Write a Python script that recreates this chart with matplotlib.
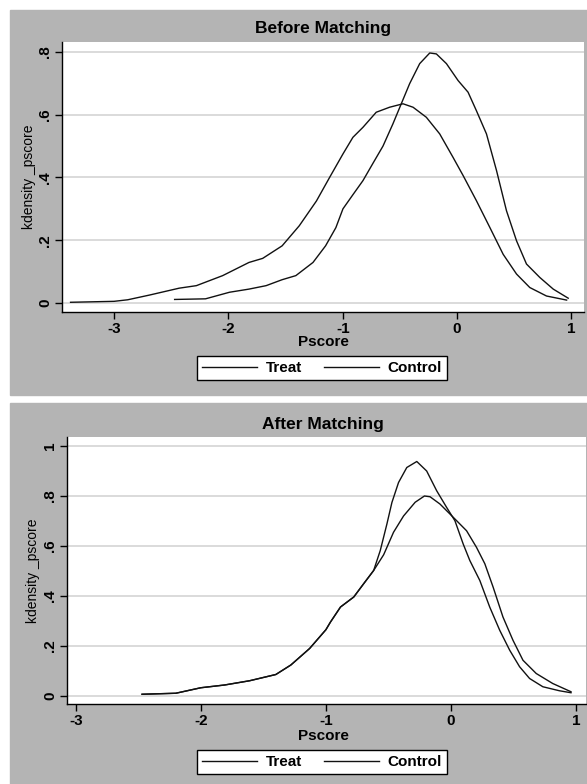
import matplotlib
matplotlib.use('Agg')
import matplotlib.pyplot as plt
from matplotlib.patches import Rectangle

plt.rcParams['font.family'] = ['Liberation Sans', 'DejaVu Sans']

# Before matching
before_control_x = [-3.38, -3.0, -2.88, -2.69, -2.43, -2.28, -2.05, -1.82, -1.70, -1.53, -1.38, -1.23,
                    -1.115, -0.998, -0.911, -0.823, -0.707, -0.59, -0.473, -0.385, -0.269, -0.152,
                    -0.035, 0.053, 0.169, 0.286, 0.403, 0.52, 0.636, 0.782, 0.958]
before_control_y = [0.002, 0.005, 0.01, 0.025, 0.047, 0.055, 0.087, 0.129, 0.142, 0.182, 0.246, 0.325,
                    0.4, 0.475, 0.528, 0.56, 0.608, 0.624, 0.635, 0.624, 0.592, 0.539,
                    0.464, 0.406, 0.326, 0.241, 0.155, 0.092, 0.049, 0.022, 0.009]
before_treat_x = [-2.47, -2.2, -1.99, -1.82, -1.67, -1.53, -1.41, -1.26, -1.15, -1.06, -0.998, -0.911,
                  -0.823, -0.736, -0.648, -0.561, -0.488, -0.415, -0.327, -0.239, -0.181, -0.093,
                  0.009, 0.096, 0.169, 0.257, 0.345, 0.432, 0.52, 0.607, 0.724, 0.841, 0.972]
before_treat_y = [0.011, 0.013, 0.034, 0.044, 0.055, 0.074, 0.087, 0.129, 0.182, 0.24, 0.3, 0.345,
                  0.39, 0.445, 0.5, 0.571, 0.635, 0.699, 0.763, 0.797, 0.794, 0.763,
                  0.709, 0.672, 0.613, 0.539, 0.422, 0.294, 0.198, 0.124, 0.081, 0.044, 0.015]

# After matching
after_treat_x = [-2.47, -2.2, -2.0, -1.81, -1.61, -1.4, -1.28, -1.13, -1.0, -0.963, -0.883, -0.777,
                 -0.698, -0.618, -0.565, -0.512, -0.472, -0.419, -0.353, -0.273, -0.194, -0.114,
                 -0.034, 0.032, 0.098, 0.151, 0.231, 0.31, 0.39, 0.47, 0.549, 0.629, 0.735,
                 0.867, 0.96]
after_treat_y = [0.007, 0.011, 0.033, 0.044, 0.061, 0.086, 0.124, 0.19, 0.265, 0.296, 0.356, 0.396,
                 0.449, 0.502, 0.582, 0.688, 0.774, 0.854, 0.914, 0.938, 0.9, 0.821,
                 0.754, 0.701, 0.608, 0.542, 0.462, 0.356, 0.263, 0.183, 0.117, 0.07, 0.037,
                 0.021, 0.013]
after_control_x = [-2.47, -2.2, -2.0, -1.81, -1.61, -1.4, -1.28, -1.13, -1.0, -0.963, -0.883, -0.777,
                   -0.698, -0.618, -0.538, -0.459, -0.379, -0.286, -0.212, -0.167, -0.088, 0.032,
                   0.125, 0.204, 0.271, 0.337, 0.416, 0.496, 0.576, 0.682, 0.814, 0.96]
after_control_y = [0.007, 0.011, 0.033, 0.044, 0.061, 0.086, 0.124, 0.19, 0.265, 0.296, 0.356, 0.396,
                   0.449, 0.502, 0.565, 0.655, 0.72, 0.775, 0.8, 0.797, 0.768, 0.708,
                   0.661, 0.595, 0.529, 0.436, 0.316, 0.223, 0.143, 0.09, 0.05, 0.017]

x_ticks = [-3, -2, -1, 0, 1]
before_yticks = [0, 0.2, 0.4, 0.6, 0.8]
before_ylabels = ['0', '.2', '.4', '.6', '.8']
after_yticks = [0, 0.2, 0.4, 0.6, 0.8, 1.0]
after_ylabels = ['0', '.2', '.4', '.6', '.8', '1']

GRAY = '#b4b4b4'
W, H = 587, 784


def fx(px):
    return px / W


def fy(py):
    return 1 - py / H


fig = plt.figure(figsize=(W / 100, H / 100), dpi=100)
fig.patch.set_facecolor('white')

# gray graph regions, behind everything
fig.patches.append(Rectangle((fx(10), fy(395)), 1 - fx(10), fy(10) - fy(395),
                             transform=fig.transFigure, color=GRAY, zorder=-10))
fig.patches.append(Rectangle((fx(10), 0), 1 - fx(10), fy(403),
                             transform=fig.transFigure, color=GRAY, zorder=-10))


def panel(box, title, title_y, xs, ys, xlim, ylim, yticks, ylabels, xlab_y, leg_y):
    left, top, right, bottom = box
    ax = fig.add_axes([fx(left), fy(bottom), fx(right) - fx(left), fy(top) - fy(bottom)])
    ax.set_facecolor('white')
    for x, y in zip(xs, ys):
        ax.plot(x, y, color='#111111', lw=1.0)
    ax.set_xlim(*xlim)
    ax.set_ylim(*ylim)
    ax.set_xticks(x_ticks)
    ax.set_xticklabels([str(t) for t in x_ticks], fontsize=11, fontweight='bold')
    ax.set_yticks(yticks)
    ax.set_yticklabels(ylabels, fontsize=11, fontweight='bold', rotation=90, va='center')
    ax.grid(axis='y', color='#d4d4d4', lw=1.2)
    ax.set_axisbelow(True)
    for s in ['top', 'right']:
        ax.spines[s].set_visible(False)
    for s in ['left', 'bottom']:
        ax.spines[s].set_linewidth(1.0)
    ax.tick_params(length=5, width=1, pad=2)
    ax.set_ylabel('kdensity _pscore', fontsize=10, labelpad=2)

    fig.text(fx(323), fy(title_y), title, ha='center', va='center', fontsize=12.5, fontweight='bold')
    fig.text(fx(323), fy(xlab_y), 'Pscore', ha='center', va='center', fontsize=11, fontweight='bold')

    handles = [plt.Line2D([], [], color='#111111', lw=1.0) for _ in range(2)]
    leg = fig.legend(handles, ['Treat', 'Control'], loc='center', ncol=2,
                     bbox_to_anchor=(fx(322), fy(leg_y)), bbox_transform=fig.transFigure,
                     fancybox=False, framealpha=1, edgecolor='black', handlelength=3.6,
                     handletextpad=0.6, columnspacing=1.4, borderpad=0.3,
                     prop={'size': 11, 'weight': 'bold'})
    leg.get_frame().set_linewidth(1.0)
    return ax


panel((62, 42, 584, 312), 'Before Matching', 28,
      [before_treat_x, before_control_x], [before_treat_y, before_control_y],
      (-3.455, 1.11), (-0.029, 0.832), before_yticks, before_ylabels, 342, 368)

panel((67, 437, 586, 704), 'After Matching', 424,
      [after_treat_x, after_control_x], [after_treat_y, after_control_y],
      (-3.07, 1.08), (-0.032, 1.036), after_yticks, after_ylabels, 736, 762)

fig.savefig('out.png', dpi=100)
